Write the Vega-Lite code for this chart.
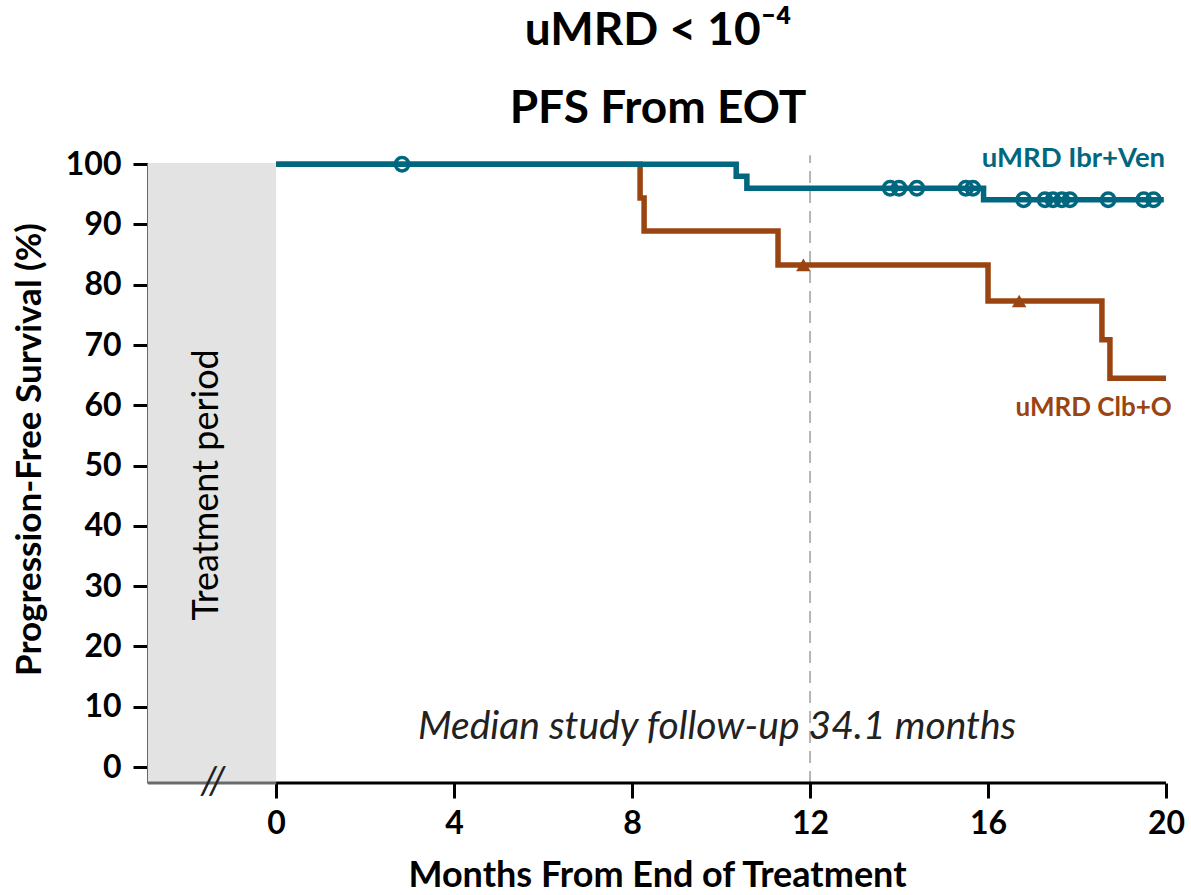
{
  "$schema": "https://vega.github.io/schema/vega-lite/v6.json",
  "width": 1018,
  "height": 620,
  "autosize": {"type": "none"},
  "padding": {"left": 148, "top": 163, "right": 25, "bottom": 112},
  "background": "white",
  "title": {
    "text": ["uMRD < 10⁻⁴", "PFS From EOT"],
    "font": "Lato",
    "fontSize": 46,
    "fontWeight": "bold",
    "color": "black",
    "anchor": "middle",
    "baseline": "bottom",
    "lineHeight": 78,
    "offset": 28,
    "dx": 1,
    "dy": 62
  },
  "config": {"view": {"stroke": null}, "font": "Lato"},
  "datasets": {
    "km": [
      {"group": "uMRD Clb+O", "month": 0, "pfs": 100},
      {"group": "uMRD Clb+O", "month": 8.18, "pfs": 94.4},
      {"group": "uMRD Clb+O", "month": 8.27, "pfs": 88.9},
      {"group": "uMRD Clb+O", "month": 11.28, "pfs": 83.3},
      {"group": "uMRD Clb+O", "month": 16.0, "pfs": 77.3},
      {"group": "uMRD Clb+O", "month": 18.56, "pfs": 70.9},
      {"group": "uMRD Clb+O", "month": 18.74, "pfs": 64.5},
      {"group": "uMRD Clb+O", "month": 20.0, "pfs": 64.5},
      {"group": "uMRD Ibr+Ven", "month": 0, "pfs": 100},
      {"group": "uMRD Ibr+Ven", "month": 10.34, "pfs": 98.0},
      {"group": "uMRD Ibr+Ven", "month": 10.58, "pfs": 96.0},
      {"group": "uMRD Ibr+Ven", "month": 15.9, "pfs": 94.1},
      {"group": "uMRD Ibr+Ven", "month": 19.95, "pfs": 94.1}
    ],
    "censor": [
      {"group": "uMRD Ibr+Ven", "month": 2.83, "pfs": 100},
      {"group": "uMRD Ibr+Ven", "month": 13.8, "pfs": 96.0},
      {"group": "uMRD Ibr+Ven", "month": 14.0, "pfs": 96.0},
      {"group": "uMRD Ibr+Ven", "month": 14.4, "pfs": 96.0},
      {"group": "uMRD Ibr+Ven", "month": 15.5, "pfs": 96.0},
      {"group": "uMRD Ibr+Ven", "month": 15.66, "pfs": 96.0},
      {"group": "uMRD Ibr+Ven", "month": 16.8, "pfs": 94.1},
      {"group": "uMRD Ibr+Ven", "month": 17.28, "pfs": 94.1},
      {"group": "uMRD Ibr+Ven", "month": 17.46, "pfs": 94.1},
      {"group": "uMRD Ibr+Ven", "month": 17.66, "pfs": 94.1},
      {"group": "uMRD Ibr+Ven", "month": 17.84, "pfs": 94.1},
      {"group": "uMRD Ibr+Ven", "month": 18.7, "pfs": 94.1},
      {"group": "uMRD Ibr+Ven", "month": 19.5, "pfs": 94.1},
      {"group": "uMRD Ibr+Ven", "month": 19.72, "pfs": 94.1},
      {"group": "uMRD Clb+O", "month": 11.85, "pfs": 83.3},
      {"group": "uMRD Clb+O", "month": 16.7, "pfs": 77.3}
    ]
  },
  "layer": [
    {
      "data": {"values": [{}]},
      "mark": {"type": "rect", "color": "#E3E3E3"},
      "encoding": {
        "x": {"datum": -2.88, "type": "quantitative", "scale": {"domain": [-2.88, 20], "nice": false, "zero": false}},
        "x2": {"datum": 0},
        "y": {"datum": -2.65, "type": "quantitative", "scale": {"domain": [-2.65, 100.2], "nice": false, "zero": false}},
        "y2": {"datum": 100.2}
      }
    },
    {
      "data": {"values": [{}]},
      "mark": {"type": "text", "text": "Treatment period", "angle": 270, "fontSize": 36, "font": "Lato", "color": "black", "align": "center", "baseline": "middle"},
      "encoding": {
        "x": {"datum": -1.55, "type": "quantitative"},
        "y": {"datum": 46.8, "type": "quantitative"}
      }
    },
    {
      "data": {"values": [{}]},
      "mark": {"type": "rule", "color": "#B5B5B5", "strokeWidth": 2, "strokeDash": [12, 8], "clip": false},
      "encoding": {
        "x": {"datum": 12, "type": "quantitative"},
        "y": {"datum": -2.65, "type": "quantitative"},
        "y2": {"datum": 101.5}
      }
    },
    {
      "data": {"values": [{}]},
      "mark": {"type": "text", "text": "Median study follow-up 34.1 months", "fontSize": 39, "font": "Lato", "fontStyle": "italic", "color": "#222222", "align": "center", "baseline": "middle"},
      "encoding": {
        "x": {"datum": 9.91, "type": "quantitative"},
        "y": {"datum": 6.63, "type": "quantitative"}
      }
    },
    {
      "data": {"name": "km"},
      "transform": [{"filter": "datum.group === 'uMRD Clb+O'"}],
      "mark": {"type": "line", "interpolate": "step-after", "strokeWidth": 5.5, "clip": false},
      "encoding": {
        "x": {"field": "month", "type": "quantitative"},
        "y": {"field": "pfs", "type": "quantitative"},
        "color": {"field": "group", "type": "nominal", "scale": {"domain": ["uMRD Ibr+Ven", "uMRD Clb+O"], "range": ["#00677F", "#9A4511"]}, "legend": null}
      }
    },
    {
      "data": {"name": "km"},
      "transform": [{"filter": "datum.group === 'uMRD Ibr+Ven'"}],
      "mark": {"type": "line", "interpolate": "step-after", "strokeWidth": 5.5, "clip": false},
      "encoding": {
        "x": {
          "field": "month",
          "type": "quantitative",
          "axis": {
            "values": [0, 4, 8, 12, 16, 20],
            "title": "Months From End of Treatment",
            "titleFont": "Lato",
            "titleFontSize": 36,
            "titleFontWeight": "bold",
            "titleColor": "black",
            "titlePadding": 19,
            "labelFont": "Lato",
            "labelFontSize": 32,
            "labelFontWeight": "bold",
            "labelColor": "black",
            "labelPadding": 10,
            "labelFlush": false,
            "labelOverlap": false,
            "tickSize": 15,
            "tickWidth": 3,
            "tickColor": "black",
            "domain": false,
            "grid": false
          }
        },
        "y": {
          "field": "pfs",
          "type": "quantitative",
          "axis": {
            "values": [0, 10, 20, 30, 40, 50, 60, 70, 80, 90, 100],
            "title": "Progression-Free Survival (%)",
            "titleFont": "Lato",
            "titleFontSize": 35,
            "titleFontWeight": "bold",
            "titleColor": "black",
            "titleAngle": 270,
            "titleAlign": "center",
            "titleBaseline": "middle",
            "titleX": -119,
            "titleY": 286,
            "labelFont": "Lato",
            "labelFontSize": 32,
            "labelFontWeight": "bold",
            "labelColor": "black",
            "labelPadding": 12,
            "tickSize": 15,
            "tickWidth": 3,
            "tickColor": "black",
            "domainColor": "#6A6A6A",
            "domainWidth": 3,
            "grid": false
          }
        },
        "color": {"field": "group", "type": "nominal", "legend": null}
      }
    },
    {
      "data": {"name": "censor"},
      "transform": [{"filter": "datum.group === 'uMRD Ibr+Ven'"}],
      "mark": {"type": "point", "shape": "circle", "filled": false, "size": 180, "strokeWidth": 3.5, "opacity": 1, "clip": false},
      "encoding": {
        "x": {"field": "month", "type": "quantitative"},
        "y": {"field": "pfs", "type": "quantitative"},
        "color": {"field": "group", "type": "nominal", "legend": null}
      }
    },
    {
      "data": {"name": "censor"},
      "transform": [{"filter": "datum.group === 'uMRD Clb+O'"}],
      "mark": {"type": "point", "shape": "triangle-up", "filled": true, "size": 210, "opacity": 1, "clip": false},
      "encoding": {
        "x": {"field": "month", "type": "quantitative"},
        "y": {"field": "pfs", "type": "quantitative"},
        "color": {"field": "group", "type": "nominal", "legend": null}
      }
    },
    {
      "data": {"values": [{}]},
      "mark": {"type": "text", "text": "uMRD Ibr+Ven", "fontSize": 27.5, "font": "Lato", "fontWeight": "bold", "color": "#00677F", "align": "right", "baseline": "middle"},
      "encoding": {
        "x": {"datum": 19.98, "type": "quantitative"},
        "y": {"datum": 100.9, "type": "quantitative"}
      }
    },
    {
      "data": {"values": [{}]},
      "mark": {"type": "text", "text": "uMRD Clb+O", "fontSize": 26, "font": "Lato", "fontWeight": "bold", "color": "#9A4511", "align": "right", "baseline": "middle"},
      "encoding": {
        "x": {"datum": 20.13, "type": "quantitative"},
        "y": {"datum": 59.5, "type": "quantitative"}
      }
    },
    {
      "data": {"values": [{}]},
      "mark": {"type": "rule", "color": "#6A6A6A", "strokeWidth": 3, "clip": false},
      "encoding": {
        "x": {"datum": -2.88, "type": "quantitative"},
        "x2": {"datum": 0},
        "y": {"datum": -2.65, "type": "quantitative"}
      }
    },
    {
      "data": {"values": [{}]},
      "mark": {"type": "rule", "color": "black", "strokeWidth": 3, "clip": false},
      "encoding": {
        "x": {"datum": 0, "type": "quantitative"},
        "x2": {"datum": 20},
        "y": {"datum": -2.65, "type": "quantitative"}
      }
    },
    {
      "data": {"values": [{}]},
      "mark": {"type": "text", "text": "//", "fontSize": 38, "font": "Lato", "fontStyle": "italic", "color": "#222222", "align": "center", "baseline": "middle"},
      "encoding": {
        "x": {"datum": -1.42, "type": "quantitative"},
        "y": {"datum": -2.65, "type": "quantitative"}
      }
    }
  ]
}
